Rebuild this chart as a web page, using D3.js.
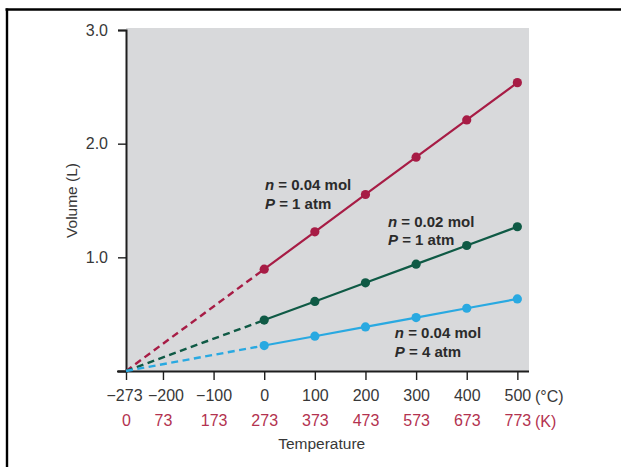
<!DOCTYPE html>
<html>
<head>
<meta charset="utf-8">
<script src="https://cdn.jsdelivr.net/npm/d3@7"></script>
<style>
  html, body { margin: 0; padding: 0; background: #fff; }
  svg { display: block; font-family: "Liberation Sans", Arial, Helvetica, sans-serif; }
</style>
</head>
<body>
<svg id="chart" width="621" height="467"></svg>
<script>
// Temperature ticks in degrees Celsius and the matching Kelvin labels
const celsiusTicks = [-273, -200, -100, 0, 100, 200, 300, 400, 500];
const kelvinTicks = [0, 73, 173, 273, 373, 473, 573, 673, 773];
const volumeTicks = [0, 1, 2, 3];

// Measured temperatures (°C) and gas volumes (L)
const temps = [0, 100, 200, 300, 400, 500];
const volN004P1 = [0.896, 1.224, 1.553, 1.881, 2.209, 2.537];
const volN002P1 = [0.448, 0.612, 0.776, 0.940, 1.104, 1.269];
const volN004P4 = [0.224, 0.306, 0.388, 0.470, 0.552, 0.634];

// Absolute zero, where every extrapolated line meets
const absZero = -273;

const series = [
  { key: "a", values: volN004P1, color: "#a71c45", n: "0.04", p: "1", at: [1.5, 1.592] },
  { key: "b", values: volN002P1, color: "#0f5a45", n: "0.02", p: "1", at: [244.5, 1.267] },
  { key: "c", values: volN004P4, color: "#29a9e1", n: "0.04", p: "4", at: [258, 0.29] }
];

const svg = d3.select("#chart");

const x = d3.scaleLinear().domain([-273, 523]).range([126, 529]);
const y = d3.scaleLinear().domain([0, 3]).range([371, 30]);

const tickFont = "16px";
const titleFont = "15.5px";
const textColor = "#383838";
const kelvinColor = "#b3324f";

// The two leftmost ticks sit close together; nudge their labels apart
const labelNudge = d => d === -273 ? -2 : d === -200 ? 2.5 : 0;

// Outer frame (top and left rules)
svg.append("line").attr("x1", 5.5).attr("x2", 621).attr("y1", 9.5).attr("y2", 9.5)
  .attr("stroke", "#000").attr("stroke-width", 2.4);
svg.append("line").attr("x1", 7).attr("x2", 7).attr("y1", 8.5).attr("y2", 467)
  .attr("stroke", "#000").attr("stroke-width", 2.4);

// Plot background
svg.append("rect")
  .attr("x", x(-273)).attr("y", y(3) - 2)
  .attr("width", x(523) - x(-273)).attr("height", y(0) - y(3) + 2)
  .attr("fill", "#d8d9db");

// Y axis
const yAxis = svg.append("g")
  .attr("transform", `translate(${x(-273)},0)`)
  .call(d3.axisLeft(y).tickValues(volumeTicks).tickSize(8).tickPadding(10)
    .tickFormat(d => d === 0 ? "" : d3.format(".1f")(d)));
yAxis.select(".domain").attr("stroke", "#1e1e1e").attr("stroke-width", 2);
yAxis.selectAll(".tick line").attr("stroke", "#1e1e1e").attr("stroke-width", 1.4);
yAxis.selectAll(".tick text").attr("fill", textColor).style("font-size", tickFont);

// X axis (Celsius)
const xAxis = svg.append("g")
  .attr("transform", `translate(0,${y(0)})`)
  .call(d3.axisBottom(x).tickValues(celsiusTicks).tickSize(9).tickPadding(10)
    .tickFormat(d => d < 0 ? "\u2212" + Math.abs(d) : String(d)));
xAxis.select(".domain").attr("stroke", "#1e1e1e").attr("stroke-width", 2)
  .attr("d", `M${x(-273) - 9},0.5H${x(523)}`);
xAxis.selectAll(".tick line").attr("stroke", "#1e1e1e").attr("stroke-width", 1.4);
xAxis.selectAll(".tick text").attr("fill", textColor).style("font-size", tickFont)
  .attr("dx", d => labelNudge(d));

// Kelvin row beneath the Celsius labels
const kAxis = svg.append("g")
  .attr("transform", `translate(0,${y(0) + 44})`)
  .call(d3.axisBottom(x).tickValues(celsiusTicks).tickSize(0).tickPadding(0)
    .tickFormat((d, i) => String(kelvinTicks[i])));
kAxis.select(".domain").remove();
kAxis.selectAll(".tick text").attr("fill", kelvinColor).style("font-size", tickFont);

// Unit markers
svg.append("text").attr("x", 535).attr("y", 401.5)
  .attr("fill", textColor).style("font-size", tickFont).text("(°C)");
svg.append("text").attr("x", 535).attr("y", 427)
  .attr("fill", kelvinColor).style("font-size", tickFont).text("(K)");

// Axis titles
svg.append("text").attr("x", (x(-273) + x(500)) / 2).attr("y", 449)
  .attr("text-anchor", "middle").attr("fill", textColor).style("font-size", titleFont)
  .text("Temperature");
svg.append("text")
  .attr("transform", `translate(77,${y(1.5)}) rotate(-90)`)
  .attr("text-anchor", "middle").attr("fill", textColor).style("font-size", titleFont)
  .text("Volume (L)");

// Series: dashed extrapolation to absolute zero, solid measured line and points
const line = d3.line().x(d => x(d[0])).y(d => y(d[1]));

series.forEach(s => {
  const pts = temps.map((t, i) => [t, s.values[i]]);
  const g = svg.append("g");
  g.append("path")
    .attr("d", line([[absZero, 0], pts[0]]))
    .attr("fill", "none").attr("stroke", s.color).attr("stroke-width", 2.4)
    .attr("stroke-dasharray", "7,4.5");
  g.append("path")
    .attr("d", line(pts))
    .attr("fill", "none").attr("stroke", s.color).attr("stroke-width", 2.2);
  g.selectAll("circle").data(pts).join("circle")
    .attr("cx", d => x(d[0])).attr("cy", d => y(d[1])).attr("r", 4.6)
    .attr("fill", s.color);

  // Condition label
  const lx = x(s.at[0]), ly = y(s.at[1]);
  const t1 = svg.append("text").attr("x", lx).attr("y", ly)
    .attr("fill", "#2b2b2b").style("font-size", "15px").style("font-weight", "bold");
  t1.append("tspan").style("font-style", "italic").text("n");
  t1.append("tspan").text(" = " + s.n + " mol");
  const t2 = svg.append("text").attr("x", lx).attr("y", ly + 18.5)
    .attr("fill", "#2b2b2b").style("font-size", "15px").style("font-weight", "bold");
  t2.append("tspan").style("font-style", "italic").text("P");
  t2.append("tspan").text(" = " + s.p + " atm");
});
</script>
</body>
</html>
